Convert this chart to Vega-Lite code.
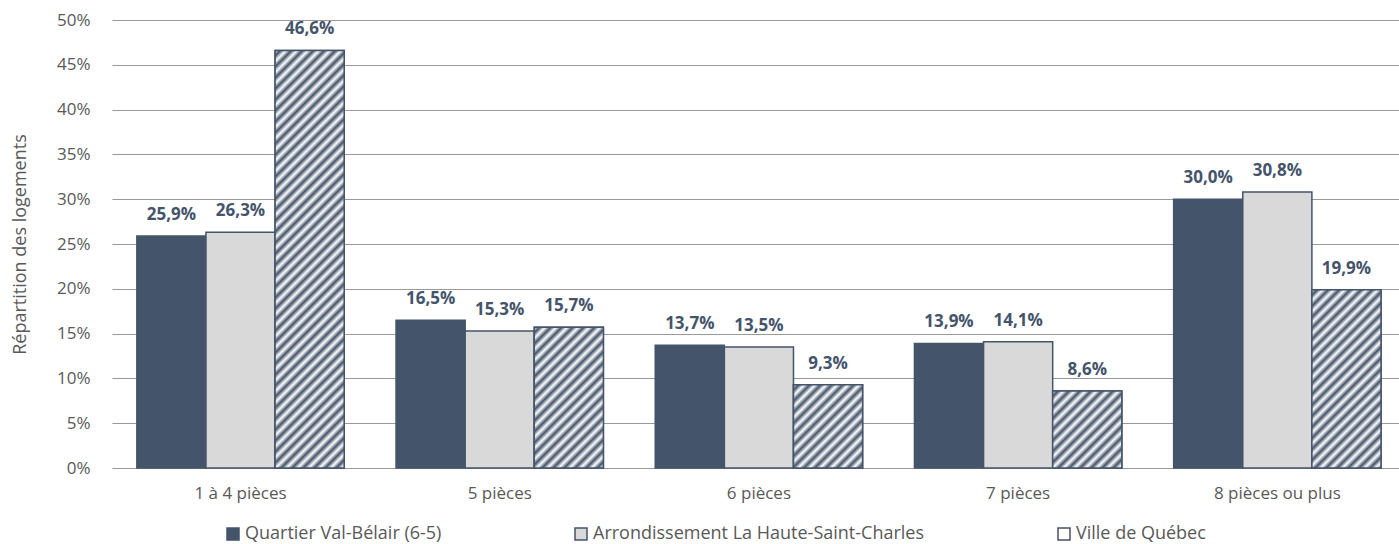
{
  "$schema": "https://vega.github.io/schema/vega-lite/v6.json",
  "autosize": "none",
  "width": 1287,
  "height": 448,
  "padding": {"left": 112, "top": 20, "right": 0, "bottom": 76},
  "config": {
    "view": {"stroke": null},
    "font": "Open Sans",
    "locale": {"number": {"decimal": ",", "thousands": " ", "grouping": [3], "currency": ["", " $"]}},
    "axis": {"labelFont": "Open Sans", "titleFont": "Open Sans", "labelColor": "#595959", "titleColor": "#595959"}
  },
  "data": {"values": [
    {"cat": "1 à 4 pièces", "serie": "Quartier Val-Bélair (6-5)", "v": 0.259},
    {"cat": "1 à 4 pièces", "serie": "Arrondissement La Haute-Saint-Charles", "v": 0.263},
    {"cat": "1 à 4 pièces", "serie": "Ville de Québec", "v": 0.466},
    {"cat": "5 pièces", "serie": "Quartier Val-Bélair (6-5)", "v": 0.165},
    {"cat": "5 pièces", "serie": "Arrondissement La Haute-Saint-Charles", "v": 0.153},
    {"cat": "5 pièces", "serie": "Ville de Québec", "v": 0.157},
    {"cat": "6 pièces", "serie": "Quartier Val-Bélair (6-5)", "v": 0.137},
    {"cat": "6 pièces", "serie": "Arrondissement La Haute-Saint-Charles", "v": 0.135},
    {"cat": "6 pièces", "serie": "Ville de Québec", "v": 0.093},
    {"cat": "7 pièces", "serie": "Quartier Val-Bélair (6-5)", "v": 0.139},
    {"cat": "7 pièces", "serie": "Arrondissement La Haute-Saint-Charles", "v": 0.141},
    {"cat": "7 pièces", "serie": "Ville de Québec", "v": 0.086},
    {"cat": "8 pièces ou plus", "serie": "Quartier Val-Bélair (6-5)", "v": 0.300},
    {"cat": "8 pièces ou plus", "serie": "Arrondissement La Haute-Saint-Charles", "v": 0.308},
    {"cat": "8 pièces ou plus", "serie": "Ville de Québec", "v": 0.199}
  ]},
  "encoding": {
    "x": {"field": "cat", "type": "nominal", "sort": null,
      "scale": {"paddingInner": 0.2, "paddingOuter": 0.0826, "align": 0.58},
      "axis": {"title": null, "labelAngle": 0, "ticks": false, "domain": false, "labelFontSize": 17, "labelPadding": 17}},
    "xOffset": {"field": "serie", "type": "nominal", "sort": ["Quartier Val-Bélair (6-5)", "Arrondissement La Haute-Saint-Charles", "Ville de Québec"],
      "scale": {"domain": ["Quartier Val-Bélair (6-5)", "Arrondissement La Haute-Saint-Charles", "Ville de Québec"]}},
    "y": {"field": "v", "type": "quantitative",
      "scale": {"domain": [0, 0.5]},
      "axis": {"title": "Répartition des logements", "format": ".0%", "values": [0, 0.05, 0.1, 0.15, 0.2, 0.25, 0.3, 0.35, 0.4, 0.45, 0.5],
        "grid": true, "gridColor": "#999999", "gridWidth": 1, "domain": false, "ticks": false,
        "labelFontSize": 17, "labelPadding": 22, "titleFontSize": 18, "titleFontWeight": "normal", "titlePadding": 27}}
  },
  "layer": [
    {
      "mark": {"type": "bar", "stroke": "#44546A", "strokeWidth": 1.5},
      "encoding": {
        "color": {"field": "serie", "type": "nominal",
          "sort": ["Quartier Val-Bélair (6-5)", "Arrondissement La Haute-Saint-Charles", "Ville de Québec"],
          "scale": {"domain": ["Quartier Val-Bélair (6-5)", "Arrondissement La Haute-Saint-Charles", "Ville de Québec"], "range": ["#44546A", "#D9D9D9", "#FFFFFF"]},
          "legend": {
            "title": null, "orient": "none", "legendX": 112, "legendY": 505, "direction": "horizontal", "columns": 3,
            "symbolType": "square", "symbolSize": 144,
            "labelFont": "Open Sans", "labelFontSize": 18, "labelColor": "#595959", "labelLimit": 600, "labelOffset": 3,
            "columnPadding": 130,
            "encode": {"symbols": {"update": {
              "stroke": {"value": "#44546A"},
              "strokeWidth": {"value": 1.5}
            }}}
          }
        }
      }
    },
    {
      "transform": [{"filter": "datum.serie === 'Ville de Québec'"}],
      "mark": {"type": "bar", "stroke": "#44546A", "strokeWidth": 1.5},
      "encoding": {
        "fill": {
          "condition": [
            {"test": "datum.cat === '1 à 4 pièces'", "value": {"gradient": "linear", "x1": 0, "y1": 0, "x2": 0.19525, "y2": 1.1797, "stops": [{"offset":0,"color":"#FFFFFF"},{"offset":0.0109,"color":"#44546A"},{"offset":0.0217,"color":"#FFFFFF"},{"offset":0.0326,"color":"#44546A"},{"offset":0.0435,"color":"#FFFFFF"},{"offset":0.0543,"color":"#44546A"},{"offset":0.0652,"color":"#FFFFFF"},{"offset":0.0761,"color":"#44546A"},{"offset":0.087,"color":"#FFFFFF"},{"offset":0.0978,"color":"#44546A"},{"offset":0.1087,"color":"#FFFFFF"},{"offset":0.1196,"color":"#44546A"},{"offset":0.1304,"color":"#FFFFFF"},{"offset":0.1413,"color":"#44546A"},{"offset":0.1522,"color":"#FFFFFF"},{"offset":0.163,"color":"#44546A"},{"offset":0.1739,"color":"#FFFFFF"},{"offset":0.1848,"color":"#44546A"},{"offset":0.1957,"color":"#FFFFFF"},{"offset":0.2065,"color":"#44546A"},{"offset":0.2174,"color":"#FFFFFF"},{"offset":0.2283,"color":"#44546A"},{"offset":0.2391,"color":"#FFFFFF"},{"offset":0.25,"color":"#44546A"},{"offset":0.2609,"color":"#FFFFFF"},{"offset":0.2717,"color":"#44546A"},{"offset":0.2826,"color":"#FFFFFF"},{"offset":0.2935,"color":"#44546A"},{"offset":0.3043,"color":"#FFFFFF"},{"offset":0.3152,"color":"#44546A"},{"offset":0.3261,"color":"#FFFFFF"},{"offset":0.337,"color":"#44546A"},{"offset":0.3478,"color":"#FFFFFF"},{"offset":0.3587,"color":"#44546A"},{"offset":0.3696,"color":"#FFFFFF"},{"offset":0.3804,"color":"#44546A"},{"offset":0.3913,"color":"#FFFFFF"},{"offset":0.4022,"color":"#44546A"},{"offset":0.413,"color":"#FFFFFF"},{"offset":0.4239,"color":"#44546A"},{"offset":0.4348,"color":"#FFFFFF"},{"offset":0.4457,"color":"#44546A"},{"offset":0.4565,"color":"#FFFFFF"},{"offset":0.4674,"color":"#44546A"},{"offset":0.4783,"color":"#FFFFFF"},{"offset":0.4891,"color":"#44546A"},{"offset":0.5,"color":"#FFFFFF"},{"offset":0.5109,"color":"#44546A"},{"offset":0.5217,"color":"#FFFFFF"},{"offset":0.5326,"color":"#44546A"},{"offset":0.5435,"color":"#FFFFFF"},{"offset":0.5543,"color":"#44546A"},{"offset":0.5652,"color":"#FFFFFF"},{"offset":0.5761,"color":"#44546A"},{"offset":0.587,"color":"#FFFFFF"},{"offset":0.5978,"color":"#44546A"},{"offset":0.6087,"color":"#FFFFFF"},{"offset":0.6196,"color":"#44546A"},{"offset":0.6304,"color":"#FFFFFF"},{"offset":0.6413,"color":"#44546A"},{"offset":0.6522,"color":"#FFFFFF"},{"offset":0.663,"color":"#44546A"},{"offset":0.6739,"color":"#FFFFFF"},{"offset":0.6848,"color":"#44546A"},{"offset":0.6957,"color":"#FFFFFF"},{"offset":0.7065,"color":"#44546A"},{"offset":0.7174,"color":"#FFFFFF"},{"offset":0.7283,"color":"#44546A"},{"offset":0.7391,"color":"#FFFFFF"},{"offset":0.75,"color":"#44546A"},{"offset":0.7609,"color":"#FFFFFF"},{"offset":0.7717,"color":"#44546A"},{"offset":0.7826,"color":"#FFFFFF"},{"offset":0.7935,"color":"#44546A"},{"offset":0.8043,"color":"#FFFFFF"},{"offset":0.8152,"color":"#44546A"},{"offset":0.8261,"color":"#FFFFFF"},{"offset":0.837,"color":"#44546A"},{"offset":0.8478,"color":"#FFFFFF"},{"offset":0.8587,"color":"#44546A"},{"offset":0.8696,"color":"#FFFFFF"},{"offset":0.8804,"color":"#44546A"},{"offset":0.8913,"color":"#FFFFFF"},{"offset":0.9022,"color":"#44546A"},{"offset":0.913,"color":"#FFFFFF"},{"offset":0.9239,"color":"#44546A"},{"offset":0.9348,"color":"#FFFFFF"},{"offset":0.9457,"color":"#44546A"},{"offset":0.9565,"color":"#FFFFFF"},{"offset":0.9674,"color":"#44546A"},{"offset":0.9783,"color":"#FFFFFF"},{"offset":0.9891,"color":"#44546A"},{"offset":1,"color":"#FFFFFF"}]}},
            {"test": "datum.cat === '5 pièces'", "value": {"gradient": "linear", "x1": 0, "y1": 0, "x2": 1.4230, "y2": 2.8975, "stops": [{"offset":0,"color":"#FFFFFF"},{"offset":0.0109,"color":"#44546A"},{"offset":0.0217,"color":"#FFFFFF"},{"offset":0.0326,"color":"#44546A"},{"offset":0.0435,"color":"#FFFFFF"},{"offset":0.0543,"color":"#44546A"},{"offset":0.0652,"color":"#FFFFFF"},{"offset":0.0761,"color":"#44546A"},{"offset":0.087,"color":"#FFFFFF"},{"offset":0.0978,"color":"#44546A"},{"offset":0.1087,"color":"#FFFFFF"},{"offset":0.1196,"color":"#44546A"},{"offset":0.1304,"color":"#FFFFFF"},{"offset":0.1413,"color":"#44546A"},{"offset":0.1522,"color":"#FFFFFF"},{"offset":0.163,"color":"#44546A"},{"offset":0.1739,"color":"#FFFFFF"},{"offset":0.1848,"color":"#44546A"},{"offset":0.1957,"color":"#FFFFFF"},{"offset":0.2065,"color":"#44546A"},{"offset":0.2174,"color":"#FFFFFF"},{"offset":0.2283,"color":"#44546A"},{"offset":0.2391,"color":"#FFFFFF"},{"offset":0.25,"color":"#44546A"},{"offset":0.2609,"color":"#FFFFFF"},{"offset":0.2717,"color":"#44546A"},{"offset":0.2826,"color":"#FFFFFF"},{"offset":0.2935,"color":"#44546A"},{"offset":0.3043,"color":"#FFFFFF"},{"offset":0.3152,"color":"#44546A"},{"offset":0.3261,"color":"#FFFFFF"},{"offset":0.337,"color":"#44546A"},{"offset":0.3478,"color":"#FFFFFF"},{"offset":0.3587,"color":"#44546A"},{"offset":0.3696,"color":"#FFFFFF"},{"offset":0.3804,"color":"#44546A"},{"offset":0.3913,"color":"#FFFFFF"},{"offset":0.4022,"color":"#44546A"},{"offset":0.413,"color":"#FFFFFF"},{"offset":0.4239,"color":"#44546A"},{"offset":0.4348,"color":"#FFFFFF"},{"offset":0.4457,"color":"#44546A"},{"offset":0.4565,"color":"#FFFFFF"},{"offset":0.4674,"color":"#44546A"},{"offset":0.4783,"color":"#FFFFFF"},{"offset":0.4891,"color":"#44546A"},{"offset":0.5,"color":"#FFFFFF"},{"offset":1,"color":"#FFFFFF"}]}},
            {"test": "datum.cat === '6 pièces'", "value": {"gradient": "linear", "x1": 0, "y1": 0, "x2": 2.985, "y2": 3.598, "stops": [{"offset":0,"color":"#FFFFFF"},{"offset":0.0109,"color":"#44546A"},{"offset":0.0217,"color":"#FFFFFF"},{"offset":0.0326,"color":"#44546A"},{"offset":0.0435,"color":"#FFFFFF"},{"offset":0.0543,"color":"#44546A"},{"offset":0.0652,"color":"#FFFFFF"},{"offset":0.0761,"color":"#44546A"},{"offset":0.087,"color":"#FFFFFF"},{"offset":0.0978,"color":"#44546A"},{"offset":0.1087,"color":"#FFFFFF"},{"offset":0.1196,"color":"#44546A"},{"offset":0.1304,"color":"#FFFFFF"},{"offset":0.1413,"color":"#44546A"},{"offset":0.1522,"color":"#FFFFFF"},{"offset":0.163,"color":"#44546A"},{"offset":0.1739,"color":"#FFFFFF"},{"offset":0.1848,"color":"#44546A"},{"offset":0.1957,"color":"#FFFFFF"},{"offset":0.2065,"color":"#44546A"},{"offset":0.2174,"color":"#FFFFFF"},{"offset":0.2283,"color":"#44546A"},{"offset":0.2391,"color":"#FFFFFF"},{"offset":0.25,"color":"#44546A"},{"offset":0.2609,"color":"#FFFFFF"},{"offset":0.2717,"color":"#44546A"},{"offset":0.2826,"color":"#FFFFFF"},{"offset":0.2935,"color":"#44546A"},{"offset":0.3043,"color":"#FFFFFF"},{"offset":0.3152,"color":"#44546A"},{"offset":0.3261,"color":"#FFFFFF"},{"offset":1,"color":"#FFFFFF"}]}},
            {"test": "datum.cat === '7 pièces'", "value": {"gradient": "linear", "x1": 0, "y1": 0, "x2": 3.262, "y2": 3.640, "stops": [{"offset":0,"color":"#FFFFFF"},{"offset":0.0109,"color":"#44546A"},{"offset":0.0217,"color":"#FFFFFF"},{"offset":0.0326,"color":"#44546A"},{"offset":0.0435,"color":"#FFFFFF"},{"offset":0.0543,"color":"#44546A"},{"offset":0.0652,"color":"#FFFFFF"},{"offset":0.0761,"color":"#44546A"},{"offset":0.087,"color":"#FFFFFF"},{"offset":0.0978,"color":"#44546A"},{"offset":0.1087,"color":"#FFFFFF"},{"offset":0.1196,"color":"#44546A"},{"offset":0.1304,"color":"#FFFFFF"},{"offset":0.1413,"color":"#44546A"},{"offset":0.1522,"color":"#FFFFFF"},{"offset":0.163,"color":"#44546A"},{"offset":0.1739,"color":"#FFFFFF"},{"offset":0.1848,"color":"#44546A"},{"offset":0.1957,"color":"#FFFFFF"},{"offset":0.2065,"color":"#44546A"},{"offset":0.2174,"color":"#FFFFFF"},{"offset":0.2283,"color":"#44546A"},{"offset":0.2391,"color":"#FFFFFF"},{"offset":0.25,"color":"#44546A"},{"offset":0.2609,"color":"#FFFFFF"},{"offset":0.2717,"color":"#44546A"},{"offset":0.2826,"color":"#FFFFFF"},{"offset":0.2935,"color":"#44546A"},{"offset":0.3043,"color":"#FFFFFF"},{"offset":0.3152,"color":"#44546A"},{"offset":0.3261,"color":"#FFFFFF"},{"offset":1,"color":"#FFFFFF"}]}},
            {"test": "datum.cat === '8 pièces ou plus'", "value": {"gradient": "linear", "x1": 0, "y1": 0, "x2": 0.9562, "y2": 2.4673, "stops": [{"offset":0,"color":"#FFFFFF"},{"offset":0.0109,"color":"#44546A"},{"offset":0.0217,"color":"#FFFFFF"},{"offset":0.0326,"color":"#44546A"},{"offset":0.0435,"color":"#FFFFFF"},{"offset":0.0543,"color":"#44546A"},{"offset":0.0652,"color":"#FFFFFF"},{"offset":0.0761,"color":"#44546A"},{"offset":0.087,"color":"#FFFFFF"},{"offset":0.0978,"color":"#44546A"},{"offset":0.1087,"color":"#FFFFFF"},{"offset":0.1196,"color":"#44546A"},{"offset":0.1304,"color":"#FFFFFF"},{"offset":0.1413,"color":"#44546A"},{"offset":0.1522,"color":"#FFFFFF"},{"offset":0.163,"color":"#44546A"},{"offset":0.1739,"color":"#FFFFFF"},{"offset":0.1848,"color":"#44546A"},{"offset":0.1957,"color":"#FFFFFF"},{"offset":0.2065,"color":"#44546A"},{"offset":0.2174,"color":"#FFFFFF"},{"offset":0.2283,"color":"#44546A"},{"offset":0.2391,"color":"#FFFFFF"},{"offset":0.25,"color":"#44546A"},{"offset":0.2609,"color":"#FFFFFF"},{"offset":0.2717,"color":"#44546A"},{"offset":0.2826,"color":"#FFFFFF"},{"offset":0.2935,"color":"#44546A"},{"offset":0.3043,"color":"#FFFFFF"},{"offset":0.3152,"color":"#44546A"},{"offset":0.3261,"color":"#FFFFFF"},{"offset":0.337,"color":"#44546A"},{"offset":0.3478,"color":"#FFFFFF"},{"offset":0.3587,"color":"#44546A"},{"offset":0.3696,"color":"#FFFFFF"},{"offset":0.3804,"color":"#44546A"},{"offset":0.3913,"color":"#FFFFFF"},{"offset":0.4022,"color":"#44546A"},{"offset":0.413,"color":"#FFFFFF"},{"offset":0.4239,"color":"#44546A"},{"offset":0.4348,"color":"#FFFFFF"},{"offset":0.4457,"color":"#44546A"},{"offset":0.4565,"color":"#FFFFFF"},{"offset":0.4674,"color":"#44546A"},{"offset":0.4783,"color":"#FFFFFF"},{"offset":0.4891,"color":"#44546A"},{"offset":0.5,"color":"#FFFFFF"},{"offset":0.5109,"color":"#44546A"},{"offset":0.5217,"color":"#FFFFFF"},{"offset":0.5326,"color":"#44546A"},{"offset":0.5435,"color":"#FFFFFF"},{"offset":1,"color":"#FFFFFF"}]}}
          ],
          "value": "#FFFFFF"
        }
      }
    },
    {
      "mark": {"type": "text", "font": "Open Sans", "fontWeight": "bold", "fontSize": 17, "color": "#44546A", "baseline": "alphabetic", "dy": -16},
      "encoding": {
        "text": {"field": "v", "type": "quantitative", "format": ".1%"}
      }
    }
  ]
}
